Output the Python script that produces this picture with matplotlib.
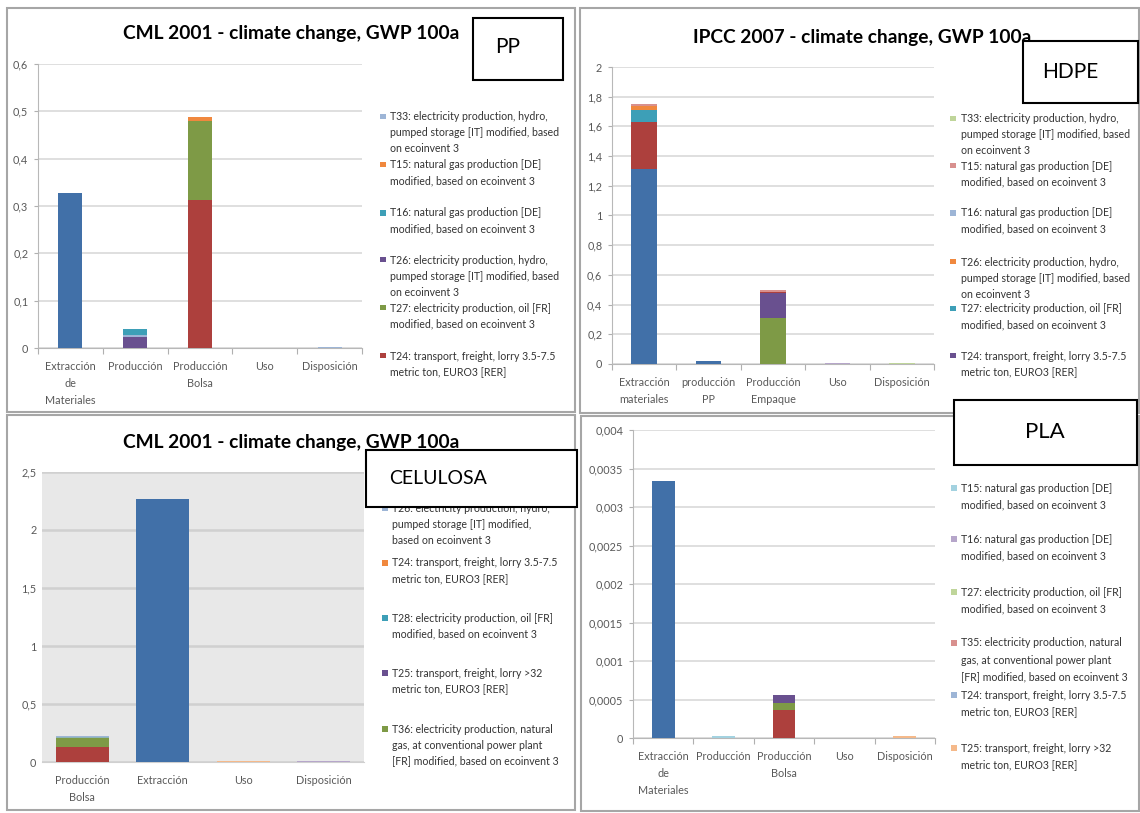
import matplotlib
matplotlib.use("Agg")
import matplotlib.pyplot as plt
from matplotlib.patches import Rectangle
import numpy as np

W, H = 1140, 813
plt.rcParams['font.family'] = ['Lato', 'DejaVu Sans']

# ---------------- colours ----------------
BLUE = '#4170A8'; RED = '#AD403D'; GREEN = '#7E9A46'; PURPLE = '#69508F'
TEAL = '#3D9FB7'; ORANGE = '#F0883E'
LBLUE = '#9DB5D6'; LRED = '#D8908E'; LGREEN = '#BFD59A'; LPURPLE = '#B6A6CA'
LTEAL = '#A3D2E0'; LORANGE = '#F5B98A'

# ---------------- PP (top left) ----------------
pp_title = "CML 2001 - climate change, GWP 100a"
pp_label = "PP"
pp_categories = ["Extracción\nde\nMateriales", "Producción", "Producción\nBolsa", "Uso", "Disposición"]
pp_yticks = [0, 0.1, 0.2, 0.3, 0.4, 0.5, 0.6]
pp_yticklabels = ["0", "0,1", "0,2", "0,3", "0,4", "0,5", "0,6"]
pp_materials = [0.327, 0, 0, 0, 0]
pp_t24 = [0, 0, 0.313, 0, 0]
pp_t27 = [0, 0, 0.167, 0, 0]
pp_t26 = [0, 0.023, 0, 0, 0]
pp_t33 = [0, 0.005, 0, 0, 0.003]
pp_t16 = [0, 0.013, 0, 0, 0]
pp_t15 = [0, 0, 0.009, 0, 0]
pp_legend_labels = [
    "T33: electricity production, hydro,\npumped storage [IT] modified, based\non ecoinvent 3",
    "T15: natural gas production [DE]\nmodified, based on ecoinvent 3",
    "T16: natural gas production [DE]\nmodified, based on ecoinvent 3",
    "T26: electricity production, hydro,\npumped storage [IT] modified, based\non ecoinvent 3",
    "T27: electricity production, oil [FR]\nmodified, based on ecoinvent 3",
    "T24: transport, freight, lorry 3.5-7.5\nmetric ton, EURO3 [RER]",
]
pp_legend_colors = [LBLUE, ORANGE, TEAL, PURPLE, GREEN, RED]

# ---------------- HDPE (top right) ----------------
hd_title = "IPCC 2007 - climate change, GWP 100a"
hd_label = "HDPE"
hd_categories = ["Extracción\nmateriales", "producción\nPP", "Producción\nEmpaque", "Uso", "Disposición"]
hd_yticks = [0, 0.2, 0.4, 0.6, 0.8, 1, 1.2, 1.4, 1.6, 1.8, 2]
hd_yticklabels = ["0", "0,2", "0,4", "0,6", "0,8", "1", "1,2", "1,4", "1,6", "1,8", "2"]
hd_materials = [1.31, 0.018, 0, 0, 0]
hd_red = [0.32, 0, 0, 0, 0]
hd_green = [0, 0, 0.31, 0, 0]
hd_t24 = [0, 0, 0.17, 0, 0]
hd_t27 = [0.08, 0, 0, 0, 0]
hd_t35 = [0, 0, 0.008, 0, 0]
hd_t26 = [0.027, 0, 0, 0, 0]
hd_t15 = [0.013, 0, 0.007, 0, 0]
hd_uso = [0, 0, 0, 0.006, 0]
hd_t33 = [0, 0, 0, 0, 0.006]
hd_legend_labels = [
    "T33: electricity production, hydro,\npumped storage [IT] modified, based\non ecoinvent 3",
    "T15: natural gas production [DE]\nmodified, based on ecoinvent 3",
    "T16: natural gas production [DE]\nmodified, based on ecoinvent 3",
    "T26: electricity production, hydro,\npumped storage [IT] modified, based\non ecoinvent 3",
    "T27: electricity production, oil [FR]\nmodified, based on ecoinvent 3",
    "T24: transport, freight, lorry 3.5-7.5\nmetric ton, EURO3 [RER]",
]
hd_legend_colors = [LGREEN, LRED, LBLUE, ORANGE, TEAL, PURPLE]

# ---------------- CELULOSA (bottom left) ----------------
ce_title = "CML 2001 - climate change, GWP 100a"
ce_label = "CELULOSA"
ce_categories = ["Producción\nBolsa", "Extracción", "Uso", "Disposición"]
ce_yticks = [0, 0.5, 1, 1.5, 2, 2.5]
ce_yticklabels = ["0", "0,5", "1", "1,5", "2", "2,5"]
ce_red = [0.13, 0, 0, 0]
ce_extraction = [0, 2.27, 0, 0]
ce_t36 = [0.075, 0, 0, 0]
ce_t25 = [0, 0, 0, 0.012]
ce_t28 = [0.01, 0, 0, 0]
ce_t24 = [0, 0, 0.012, 0]
ce_t26 = [0.01, 0, 0, 0]
ce_legend_labels = [
    "T26: electricity production, hydro,\npumped storage [IT] modified,\nbased on ecoinvent 3",
    "T24: transport, freight, lorry 3.5-7.5\nmetric ton, EURO3 [RER]",
    "T28: electricity production, oil [FR]\nmodified, based on ecoinvent 3",
    "T25: transport, freight, lorry >32\nmetric ton, EURO3 [RER]",
    "T36: electricity production, natural\ngas, at conventional power plant\n[FR] modified, based on ecoinvent 3",
]
ce_legend_colors = [LBLUE, ORANGE, TEAL, PURPLE, GREEN]

# ---------------- PLA (bottom right) ----------------
pl_label = "PLA"
pl_categories = ["Extracción\nde\nMateriales", "Producción", "Producción\nBolsa", "Uso", "Disposición"]
pl_yticks = [0, 0.0005, 0.001, 0.0015, 0.002, 0.0025, 0.003, 0.0035, 0.004]
pl_yticklabels = ["0", "0,0005", "0,001", "0,0015", "0,002", "0,0025", "0,003", "0,0035", "0,004"]
pl_materials = [0.00334, 0, 0, 0, 0]
pl_red = [0, 0, 0.00037, 0, 0]
pl_green = [0, 0, 0.00009, 0, 0]
pl_purple = [0, 0, 0.0001, 0, 0]
pl_t15 = [0, 0.00003, 0, 0, 0]
pl_t25 = [0, 0, 0, 0, 0.00003]
pl_legend_labels = [
    "T15: natural gas production [DE]\nmodified, based on ecoinvent 3",
    "T16: natural gas production [DE]\nmodified, based on ecoinvent 3",
    "T27: electricity production, oil [FR]\nmodified, based on ecoinvent 3",
    "T35: electricity production, natural\ngas, at conventional power plant\n[FR] modified, based on ecoinvent 3",
    "T24: transport, freight, lorry 3.5-7.5\nmetric ton, EURO3 [RER]",
    "T25: transport, freight, lorry >32\nmetric ton, EURO3 [RER]",
]
pl_legend_colors = [LTEAL, LPURPLE, LGREEN, LRED, LBLUE, LORANGE]

# ---------------- helpers ----------------
fig = plt.figure(figsize=(W / 100, H / 100), dpi=100)
fig.patch.set_facecolor('white')

TICK_FS = 7.8
LEG_FS = 7.6
TITLE_FS = 13.8


def axes_px(x0, y0, x1, y1):
    return fig.add_axes([x0 / W, 1 - y1 / H, (x1 - x0) / W, (y1 - y0) / H])


def rect_px(x0, y0, x1, y1, **kw):
    r = Rectangle((x0 / W, 1 - y1 / H), (x1 - x0) / W, (y1 - y0) / H,
                  transform=fig.transFigure, **kw)
    fig.add_artist(r)
    return r


def text_px(x, y, s, **kw):
    return fig.text(x / W, 1 - y / H, s, **kw)


def stacked(ax, series, width):
    n = len(series[0][0])
    x = np.arange(n)
    bottom = np.zeros(n)
    for vals, col in series:
        v = np.asarray(vals, dtype=float)
        ax.bar(x, v, width, bottom=bottom, color=col, linewidth=0, zorder=3)
        bottom += v


def style(ax, ylim, yticks, yticklabels, cats, bg='white', grid='#D9D9D9',
          gridlw=1.2, boundary_ticks=True, yaxis_line=True):
    n = len(cats)
    ax.set_xlim(-0.5, n - 0.5)
    ax.set_ylim(*ylim)
    ax.set_facecolor(bg)
    ax.set_yticks(yticks, yticklabels)
    ax.set_xticks(range(n), cats)
    ax.set_xticks(np.arange(n + 1) - 0.5, minor=True)
    ax.tick_params(axis='x', which='major', length=0, pad=9, labelsize=TICK_FS,
                   labelcolor='#595959')
    ax.tick_params(axis='x', which='minor', length=4 if boundary_ticks else 0,
                   color='#B0B0B0', width=0.8)
    ax.tick_params(axis='y', length=3 if yaxis_line else 0, color='#B0B0B0',
                   labelsize=TICK_FS, labelcolor='#595959', pad=4)
    ax.grid(axis='y', color=grid, lw=gridlw, zorder=0)
    ax.set_axisbelow(True)
    for s in ['top', 'right']:
        ax.spines[s].set_visible(False)
    ax.spines['bottom'].set_color('#B8B8B8')
    if yaxis_line:
        ax.spines['left'].set_color('#B8B8B8')
    else:
        ax.spines['left'].set_visible(False)
    for lbl in ax.get_xticklabels():
        lbl.set_linespacing(1.72)


def legend_px(labels, colors, sx, tx, starts, pitch=16, fs=LEG_FS):
    for lab, col, y0 in zip(labels, colors, starts):
        rect_px(sx - 3, y0 - 3, sx + 2.5, y0 + 2.5, facecolor=col,
                edgecolor='none', zorder=3)
        for i, line in enumerate(lab.split("\n")):
            text_px(tx, y0 + i * pitch, line, fontsize=fs, color='#333333',
                    ha='left', va='center', zorder=3)


def label_box(x0, y0, x1, y1, s, cx, cy, fs):
    rect_px(x0, y0, x1, y1, facecolor='white', edgecolor='black', lw=1.5,
            zorder=10)
    text_px(cx, cy, s, fontsize=fs, color='black', ha='center', va='center',
            zorder=11)


# ---------------- panel frames ----------------
frame_kw = dict(facecolor='none', edgecolor='#A6A6A6', lw=1.5, zorder=2)
rect_px(7, 8, 575, 412, **frame_kw)
rect_px(580, 8, 1139, 413, **frame_kw)
rect_px(7, 415, 575, 810, **frame_kw)
rect_px(581, 416, 1139, 811, **frame_kw)

# ---------------- PP ----------------
ax1 = axes_px(38, 64, 362, 348)
stacked(ax1, [(pp_materials, BLUE), (pp_t24, RED), (pp_t27, GREEN),
              (pp_t26, PURPLE), (pp_t33, LBLUE), (pp_t16, TEAL),
              (pp_t15, ORANGE)], 0.37)
style(ax1, (0, 0.6), pp_yticks, pp_yticklabels, pp_categories)
text_px(291, 34, pp_title, fontsize=TITLE_FS, fontweight='bold', color='black',
        ha='center', va='center')
legend_px(pp_legend_labels, pp_legend_colors, 383, 390,
          [117, 165, 213, 260, 308, 356])
label_box(473, 18, 563, 80, pp_label, 508, 47, 15)

# ---------------- HDPE ----------------
ax2 = axes_px(612, 67, 934, 364)
stacked(ax2, [(hd_materials, BLUE), (hd_red, RED), (hd_green, GREEN),
              (hd_t24, PURPLE), (hd_t27, TEAL), (hd_t35, RED),
              (hd_t26, ORANGE), (hd_t15, LRED), (hd_uso, LPURPLE),
              (hd_t33, LGREEN)], 0.40)
style(ax2, (0, 2), hd_yticks, hd_yticklabels, hd_categories)
text_px(862, 37, hd_title, fontsize=TITLE_FS, fontweight='bold', color='black',
        ha='center', va='center')
legend_px(hd_legend_labels, hd_legend_colors, 953, 961,
          [119, 166, 213, 262, 309, 356])
label_box(1023, 41, 1138, 103, hd_label, 1070, 72, 15)

# ---------------- CELULOSA ----------------
ax3 = axes_px(42, 472, 364, 762)
stacked(ax3, [(ce_red, RED), (ce_extraction, BLUE), (ce_t36, GREEN),
              (ce_t25, LPURPLE), (ce_t28, '#8FB5B8'), (ce_t24, LORANGE),
              (ce_t26, LBLUE)], 0.66)
style(ax3, (0, 2.5), ce_yticks, ce_yticklabels, ce_categories, bg='#E8E8E8',
      grid='#D0D0D0', gridlw=1.8, boundary_ticks=False, yaxis_line=False)
ax3.spines['bottom'].set_color('#D0D0D0')
text_px(291, 442, ce_title, fontsize=TITLE_FS, fontweight='bold', color='black',
        ha='center', va='center')
legend_px(ce_legend_labels, ce_legend_colors, 385, 392,
          [508, 563, 618, 673, 729])
label_box(366, 450, 577, 507, ce_label, 438, 478, 14)

# ---------------- PLA ----------------
ax4 = axes_px(633, 430, 935, 738)
stacked(ax4, [(pl_materials, BLUE), (pl_red, RED), (pl_green, GREEN),
              (pl_purple, PURPLE), (pl_t15, LTEAL), (pl_t25, LORANGE)], 0.38)
style(ax4, (0, 0.004), pl_yticks, pl_yticklabels, pl_categories)
legend_px(pl_legend_labels, pl_legend_colors, 954, 961,
          [488, 539, 592, 643, 695, 748], pitch=17)
label_box(954, 400, 1137, 465, pl_label, 1045, 432, 16)

fig.savefig("out.png", dpi=100)
